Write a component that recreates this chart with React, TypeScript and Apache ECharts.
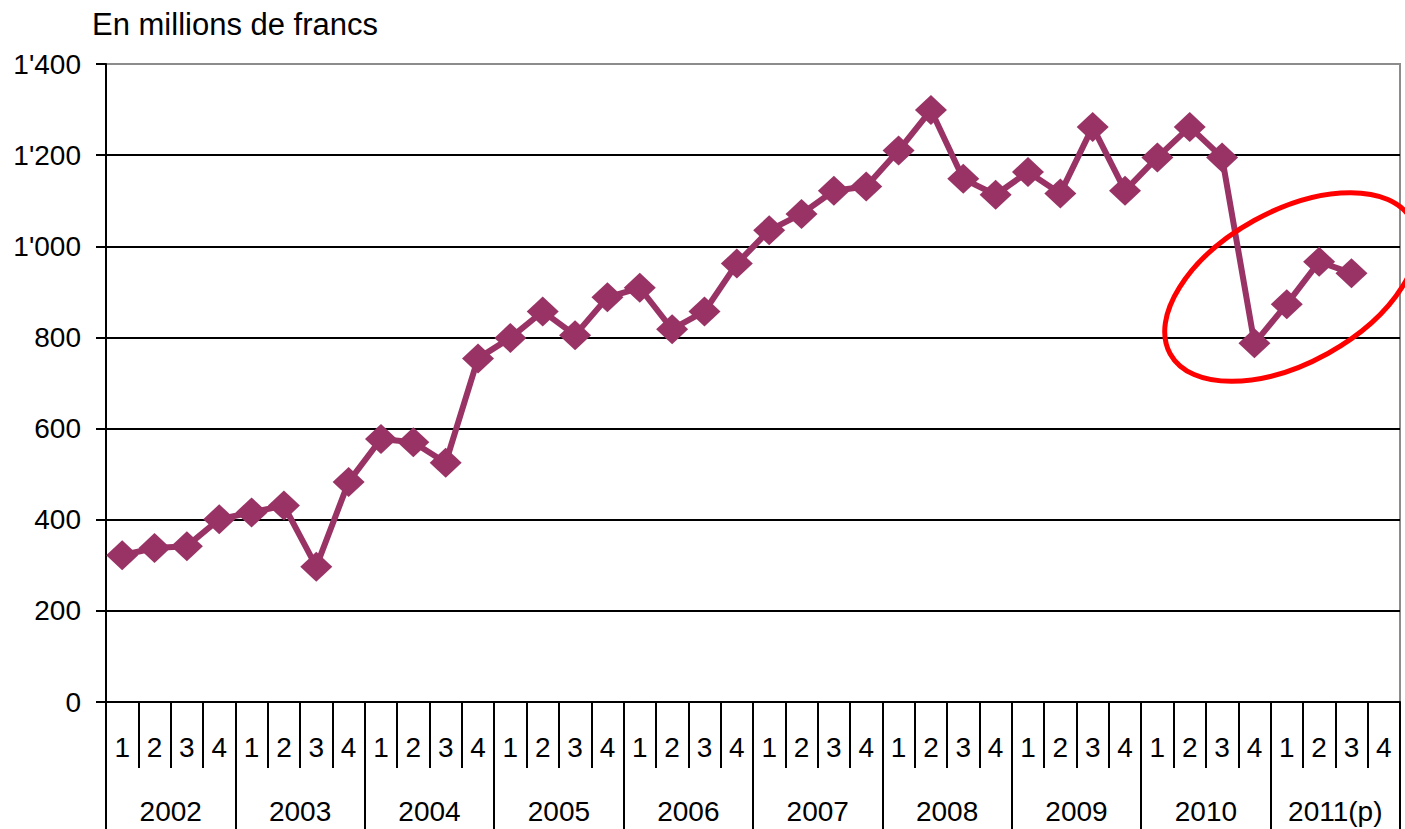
import React, { useEffect, useRef } from "react";
import * as echarts from "echarts";

const years = ["2002", "2003", "2004", "2005", "2006", "2007", "2008", "2009", "2010", "2011(p)"];
const quarterNames = ["1", "2", "3", "4"];
const quarters = years.flatMap(() => quarterNames);

const values2002 = [322, 338, 342, 401];
const values2003 = [416, 431, 297, 483];
const values2004 = [577, 570, 525, 754];
const values2005 = [799, 857, 805, 888];
const values2006 = [909, 818, 857, 962];
const values2007 = [1035, 1071, 1122, 1131];
const values2008 = [1210, 1299, 1148, 1113];
const values2009 = [1163, 1116, 1262, 1122];
const values2010 = [1195, 1262, 1195, 787];
const values2011 = [873, 966, 941, null];

const seriesValues = [
  ...values2002, ...values2003, ...values2004, ...values2005, ...values2006,
  ...values2007, ...values2008, ...values2009, ...values2010, ...values2011,
];

const yTicks = [0, 200, 400, 600, 800, 1000, 1200, 1400];

const fmt = (v: number) =>
  v >= 1000 ? `${Math.floor(v / 1000)}'${String(v % 1000).padStart(3, "0")}` : String(v);

const FONT = "'Liberation Sans', Arial, sans-serif";

export default function App() {
  const ref = useRef<HTMLDivElement>(null);
  useEffect(() => {
    if (!ref.current) return;
    const chart = echarts.init(ref.current, undefined, { renderer: "svg" });
    chart.setOption({
      animation: false,
      backgroundColor: "#ffffff",
      textStyle: { fontFamily: FONT, color: "#000" },
      title: {
        text: "En millions de francs",
        left: 92,
        top: 9,
        padding: 0,
        textStyle: { fontSize: 31, fontWeight: "normal", color: "#000", fontFamily: FONT },
      },
      grid: {
        left: 106,
        right: 5,
        top: 64,
        bottom: 127,
        show: true,
        borderColor: "#8c8c8c",
        borderWidth: 2,
        backgroundColor: "transparent",
      },
      xAxis: [
        {
          type: "category",
          data: quarters,
          position: "bottom",
          boundaryGap: true,
          axisLine: { show: true, lineStyle: { color: "#000", width: 2 } },
          axisTick: { show: true, interval: 0, length: 66, lineStyle: { color: "#000", width: 2 } },
          axisLabel: {
            interval: 0,
            fontSize: 28,
            color: "#000",
            fontFamily: FONT,
            margin: 45,
            verticalAlign: "middle",
          },
          splitLine: { show: false },
        },
        {
          type: "category",
          data: years,
          position: "bottom",
          boundaryGap: true,
          axisLine: { show: false },
          axisTick: { show: true, interval: 0, length: 127, lineStyle: { color: "#000", width: 2 } },
          axisLabel: {
            interval: 0,
            fontSize: 28,
            color: "#000",
            fontFamily: FONT,
            margin: 109,
            verticalAlign: "middle",
          },
          splitLine: { show: false },
        },
      ],
      yAxis: {
        type: "value",
        min: yTicks[0],
        max: yTicks[yTicks.length - 1],
        interval: 200,
        axisLine: { show: true, lineStyle: { color: "#000", width: 2 } },
        axisTick: { show: true, length: 10, lineStyle: { color: "#000", width: 2 } },
        axisLabel: {
          fontSize: 28,
          color: "#000",
          fontFamily: FONT,
          margin: 25,
          formatter: (v: number) => fmt(v),
        },
        splitLine: {
          show: true,
          lineStyle: {
            color: ["#000", "#000", "#000", "#000", "#000", "#000", "#000", "#8c8c8c"],
            width: 2,
          },
        },
      },
      series: [
        {
          type: "line",
          xAxisIndex: 0,
          data: seriesValues,
          color: "#993366",
          lineStyle: { color: "#993366", width: 6 },
          itemStyle: { color: "#993366" },
          symbol: "diamond",
          symbolSize: [32, 30],
          showAllSymbol: true,
          connectNulls: false,
          z: 5,
        },
      ],
      graphic: [
        {
          type: "ellipse",
          x: 1291,
          y: 287,
          rotation: 0.506,
          shape: { cx: 0, cy: 0, rx: 138, ry: 76 },
          style: { fill: "none", stroke: "#ff0000", lineWidth: 5 },
          z: 10,
        },
      ],
    });
    return () => chart.dispose();
  }, []);
  return (
    <div
      ref={ref}
      style={{ position: "absolute", left: 0, top: 0, width: 1405, height: 829, background: "#fff" }}
    />
  );
}
